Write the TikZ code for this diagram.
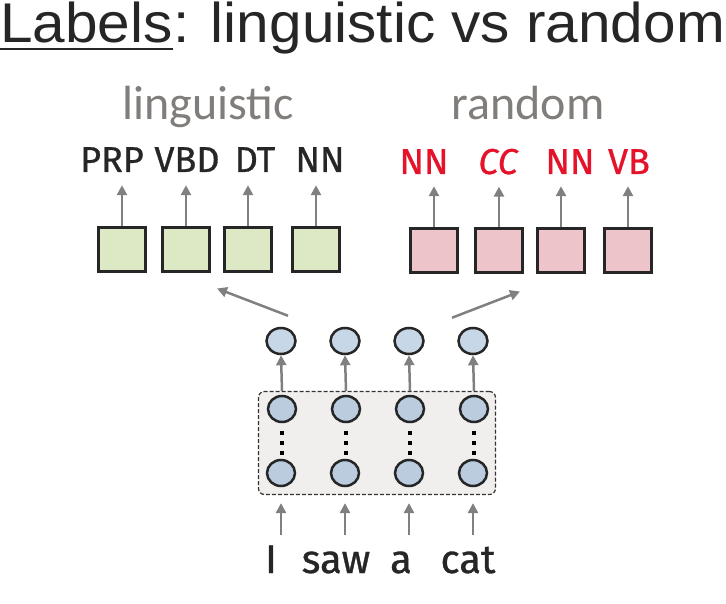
\documentclass[tikz,border=0pt]{standalone}
\usepackage{fontspec}
\setmainfont{Liberation Sans}
\newfontfamily\calfont{Carlito}
\newfontfamily\tagfont{Fira Sans}[FakeBold=0.8]
\usetikzlibrary{shapes, calc, arrows.meta}

\definecolor{lblgray}{RGB}{128,125,122}
\definecolor{arrgray}{RGB}{128,128,128}
\definecolor{tagred}{RGB}{230,18,42}
\definecolor{gfill}{RGB}{221,232,197}
\definecolor{rfill}{RGB}{238,196,203}
\definecolor{hfill}{RGB}{199,215,231}
\definecolor{efill}{RGB}{186,204,222}
\definecolor{boxfill}{RGB}{240,239,237}

\begin{document}
\begin{tikzpicture}[x=1pt, y=-1pt,
    head/.style={font=\fontsize{56}{56}\selectfont, text=black!85, inner sep=0, anchor=base west, xscale=1.045},
    group/.style={font=\calfont\fontsize{48}{48}\selectfont, text=lblgray, inner sep=0, anchor=base},
    tag/.style={font=\tagfont\fontsize{36}{36}\selectfont, text=black!85, inner sep=0, anchor=base},
    word/.style={font=\tagfont\fontsize{40}{40}\selectfont, text=black!85, inner sep=0, anchor=base, text height=28pt, text depth=8pt},
    gbox/.style={draw=black!85, line width=3pt, fill=gfill, minimum width=47pt, minimum height=44pt, inner sep=0},
    rbox/.style={gbox, fill=rfill},
    hid/.style={ellipse, draw=black!85, line width=2.5pt, fill=hfill, minimum width=29pt, minimum height=26pt, inner sep=0},
    enc/.style={hid, fill=efill, minimum width=28pt},
    encbox/.style={draw=black!80, dash pattern=on 4pt off 2pt, line width=1.2pt, rounded corners=6pt, fill=boxfill, minimum width=237pt, minimum height=103pt},
    arr/.style={-{Triangle[length=10pt, width=10pt]}, draw=arrgray, line width=2.5pt}]
    \useasboundingbox (0,0) rectangle (726,604);
    % title
    \node[head] (lab) at (0,43) {Labels};
    \node[head] (ttl) at (lab.base east) {: linguistic vs random};
    \draw[line width=2.5pt, black!85] ([yshift=-6pt]lab.base west) -- ([yshift=-6pt]lab.base east);
    % the two label sets
    \node[group] (ling) at (208,120) {linguistic};
    \node[group] (rand) at (528,120) {random};
    \foreach \n/\x in {g1/122, g2/186, g3/248, g4/316} \node[gbox] (\n) at (\x,250) {};
    \foreach \n/\x in {r1/434, r2/499, r3/561, r4/628} \node[rbox] (\n) at (\x,251) {};
    \foreach \n/\x/\t in {t1/112/PRP, t2/187/VBD, t3/255/DT, t4/320/NN} \node[tag] (\n) at (\x,172) {\t};
    \foreach \n/\x/\t in {s1/424/NN, s2/498/\itshape CC, s3/570/NN, s4/629/VB} \node[tag, text=tagred] (\n) at (\x,174) {\t};
    \foreach \b/\t in {g1/t1, g2/t2, g3/t3, g4/t4} \draw[arr, shorten >=13pt] (\b.north) -- (\b.north |- \t.south);
    \foreach \b/\t in {r1/s1, r2/s2, r3/s3, r4/s4} \draw[arr, shorten >=12pt] (\b.north) -- (\b.north |- \t.south);
    % encoder
    \node[encbox] (box) at (377,443) {};
    \foreach \i/\x in {1/281, 2/345, 3/409, 4/473} {
        \node[hid] (h\i) at (\x,341) {};
        \node[enc] (e\i) at (\x+1,409) {};
        \node[enc] (l\i) at (\x,473) {};
        \foreach \d in {24,34,44} \fill ([shift={(-2,\d-2)}]e\i.center) rectangle ++(4,4);
        \draw[arr] (e\i |- box.north) -- (h\i.south);
    }
    \foreach \n/\x/\t in {w1/271/I, w2/336/saw, w3/401/a, w4/468/cat} \node[word] (\n) at (\x,573) {\t};
    \foreach \i in {1,...,4} \draw[arr, shorten <=10pt, shorten >=8pt] (l\i |- w\i.north) -- (l\i |- box.south);
    \draw[arr] ([shift={(7,-11)}]h1.north) -- ($(g2.south east)!.5!(g3.south west)+(0,15)$);
    \draw[arr] ([shift={(-21,-9)}]h4.north) -- ($(r2.south east)+(-4,17)$);
\end{tikzpicture}
\end{document}
